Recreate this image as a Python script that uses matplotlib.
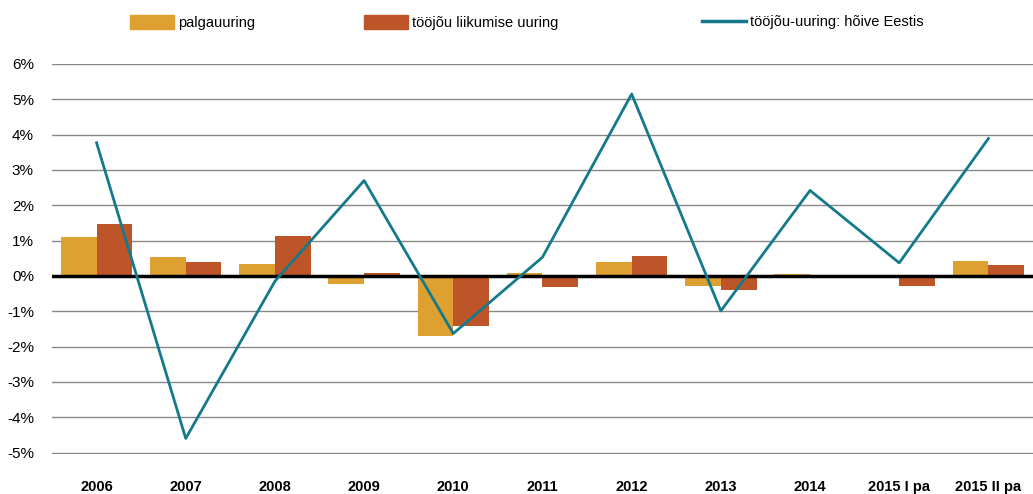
import matplotlib.pyplot as plt
import numpy as np
from matplotlib.patches import Patch
from matplotlib.lines import Line2D

plt.rcParams['font.family'] = ['Liberation Sans', 'DejaVu Sans']

categories = ['2006', '2007', '2008', '2009', '2010', '2011', '2012', '2013', '2014', '2015 I pa', '2015 II pa']
palga = [1.1, 0.53, 0.34, -0.22, -1.69, 0.08, 0.4, -0.28, 0.06, 0.0, 0.43]
liikumine = [1.46, 0.4, 1.13, 0.08, -1.41, -0.31, 0.56, -0.39, 0.03, -0.28, 0.31]
hoive = [3.77, -4.6, -0.15, 2.7, -1.63, 0.53, 5.15, -0.99, 2.42, 0.37, 3.89]

c_palga = '#DEA030'
c_liik = '#BE5529'
c_hoive = '#147A8B'

fig = plt.figure(figsize=(10.33, 4.94), dpi=100)
ax = fig.add_axes([0.0503, 0.081, 0.9497, 0.7895])

x = np.arange(len(categories))
w = 0.4
ax.bar(x - w/2, palga, w, color=c_palga, zorder=2)
ax.bar(x + w/2, liikumine, w, color=c_liik, zorder=2)
ax.axhline(0, color='black', lw=2.5, zorder=3)
ax.plot(x, hoive, color=c_hoive, lw=2, zorder=4)

ax.set_xlim(-0.5, len(categories) - 0.5)
ax.set_ylim(-5.04, 6)
ax.set_yticks(range(-5, 7))
ax.set_yticklabels([f'{v}%' for v in range(-5, 7)], fontsize=11)
ax.set_xticks(x)
ax.set_xticklabels(categories, fontsize=10.5, fontweight='bold')
ax.tick_params(axis='x', length=0, pad=19)
ax.tick_params(axis='y', length=0, pad=13)
ax.grid(axis='y', color='#888888', lw=1, zorder=0)
for s in ax.spines.values():
    s.set_visible(False)

fig.legend(handles=[Patch(color=c_palga)], labels=['palgauuring'], loc='center left',
           bbox_to_anchor=(0.113, 0.955), frameon=False, fontsize=10.5, handlelength=3.0,
           handleheight=1.2, handletextpad=0.3)
fig.legend(handles=[Patch(color=c_liik)], labels=['tööjõu liikumise uuring'], loc='center left',
           bbox_to_anchor=(0.340, 0.955), frameon=False, fontsize=10.5, handlelength=3.0,
           handleheight=1.2, handletextpad=0.3)
fig.legend(handles=[Line2D([], [], color=c_hoive, lw=2.5)], labels=['tööjõu-uuring: hõive Eestis'],
           loc='center left', bbox_to_anchor=(0.667, 0.955), frameon=False, fontsize=10.5,
           handlelength=3.0, handletextpad=0.3)

fig.savefig('out.png', dpi=100)
